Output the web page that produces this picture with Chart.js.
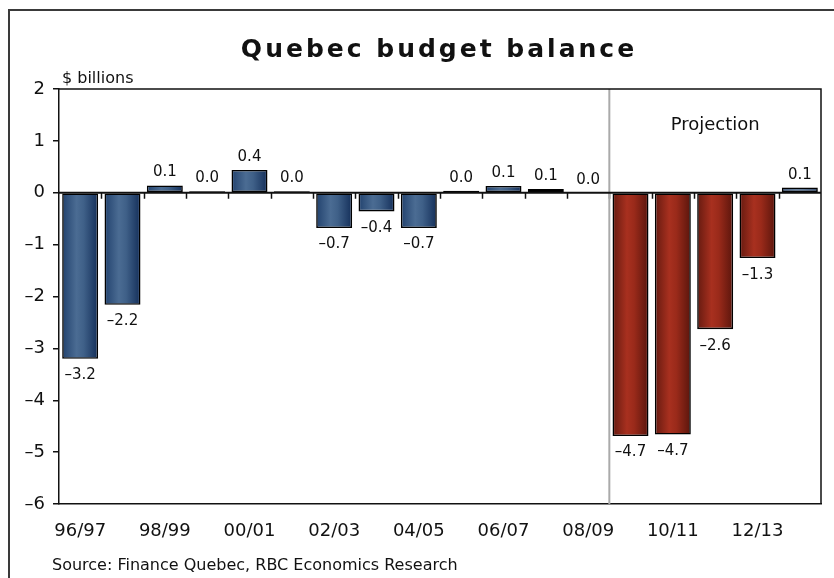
<!DOCTYPE html>
<html>
<head>
<meta charset="utf-8">
<script src="https://cdn.jsdelivr.net/npm/chart.js@4.4.1/dist/chart.umd.min.js"></script>
<style>
  html, body { margin: 0; padding: 0; background: #fff; }
  #wrap { position: relative; width: 834px; height: 578px; }
</style>
</head>
<body>
<div id="wrap"><canvas id="budget-chart" width="834" height="578"></canvas></div>
<script>
// Datos del gráfico
const seasons = ["96/97", "97/98", "98/99", "99/00", "00/01", "01/02", "02/03", "03/04", "04/05",
  "05/06", "06/07", "07/08", "08/09", "09/10", "10/11", "11/12", "12/13", "13/14"];
const balance = [-3.2, -2.16, 0.14, 0.03, 0.44, 0.03, -0.68, -0.36, -0.68,
  0.04, 0.13, 0.07, 0, -4.69, -4.66, -2.63, -1.26, 0.1];
const projected = [false, false, false, false, false, false, false, false, false,
  false, false, false, false, true, true, true, true, false];
const firstProjection = 13;

const FONT = "'DejaVu Sans', Verdana, sans-serif";
const BAR_PCT = 0.85;

const fmt = (v) => {
  const s = v.toFixed(1);
  return s.startsWith("-") ? "\u2013" + s.slice(1) : s;
};

// Degradado horizontal de cada barra
const barFill = (c) => {
  const chart = c.chart;
  const xs = chart.scales.x;
  const i = c.dataIndex;
  const red = projected[i];
  if (!xs || !chart.chartArea) return red ? "#8f2a1a" : "#34557f";
  const cx = xs.getPixelForValue(i);
  const w = (xs.width / seasons.length) * BAR_PCT;
  const g = chart.ctx.createLinearGradient(cx - w / 2, 0, cx + w / 2, 0);
  if (red) {
    g.addColorStop(0, "#651a10");
    g.addColorStop(0.4, "#a8301f");
    g.addColorStop(0.6, "#9a2a1a");
    g.addColorStop(1, "#5a150c");
  } else {
    g.addColorStop(0, "#22426e");
    g.addColorStop(0.4, "#4b6c93");
    g.addColorStop(0.6, "#3f6088");
    g.addColorStop(1, "#142f5a");
  }
  return g;
};

const decor = {
  id: "decor",
  beforeDatasetsDraw(chart) {
    const { ctx, chartArea: a, scales: { x, y } } = chart;
    const y0 = y.getPixelForValue(0);
    const step = x.width / seasons.length;
    ctx.save();
    // marcas en la línea cero
    ctx.strokeStyle = "#111";
    ctx.lineWidth = 1.5;
    for (let k = 1; k < seasons.length; k++) {
      const px = Math.round(a.left + step * k) + 0.5;
      ctx.beginPath();
      ctx.moveTo(px, y0);
      ctx.lineTo(px, y0 + 6);
      ctx.stroke();
    }
    // separación de la proyección
    const px = a.left + step * firstProjection;
    ctx.strokeStyle = "#aaaaaa";
    ctx.lineWidth = 2;
    ctx.beginPath();
    ctx.moveTo(px, a.top);
    ctx.lineTo(px, a.bottom);
    ctx.stroke();
    ctx.restore();
  },
  afterDatasetsDraw(chart) {
    const { ctx, chartArea: a, scales: { y } } = chart;
    const y0 = y.getPixelForValue(0);
    ctx.save();
    ctx.strokeStyle = "#111";
    ctx.lineWidth = 2;
    ctx.beginPath();
    ctx.moveTo(a.left, y0);
    ctx.lineTo(a.right, y0);
    ctx.stroke();
    ctx.lineWidth = 1.5;
    ctx.beginPath();
    ctx.moveTo(a.left, a.top);
    ctx.lineTo(a.right, a.top);
    ctx.lineTo(a.right, a.bottom);
    ctx.stroke();

    // etiquetas de valores
    ctx.fillStyle = "#111";
    ctx.font = "15px " + FONT;
    ctx.textAlign = "center";
    chart.getDatasetMeta(0).data.forEach((bar, i) => {
      const v = balance[i];
      if (v < 0) {
        ctx.textBaseline = "top";
        ctx.fillText(fmt(v), bar.x, bar.y + 9);
      } else {
        ctx.textBaseline = "alphabetic";
        ctx.fillText(fmt(v), bar.x, bar.y - 9);
      }
    });
    ctx.restore();
  },
  afterDraw(chart) {
    const { ctx, chartArea: a } = chart;
    ctx.save();
    ctx.fillStyle = "#111";
    ctx.textBaseline = "alphabetic";

    ctx.textAlign = "center";
    ctx.font = "bold 25px " + FONT;
    ctx.letterSpacing = "3px";
    ctx.fillText("Quebec budget balance", (a.left + a.right) / 2 - 1, 57);
    ctx.letterSpacing = "0px";

    ctx.font = "18px " + FONT;
    const projX = a.left + (a.width / seasons.length) * firstProjection;
    ctx.fillText("Projection", (projX + a.right) / 2, a.top + 41);

    ctx.textAlign = "left";
    ctx.font = "16px " + FONT;
    ctx.fillText("$ billions", a.left + 3, a.top - 6);

    ctx.font = "16px " + FONT;
    ctx.fillText("Source: Finance Quebec, RBC Economics Research", 52, 570);

    // marco exterior
    ctx.strokeStyle = "#3a3a3a";
    ctx.lineWidth = 2;
    ctx.beginPath();
    ctx.moveTo(9, 578);
    ctx.lineTo(9, 10);
    ctx.lineTo(834, 10);
    ctx.stroke();
    ctx.restore();
  }
};

new Chart(document.getElementById("budget-chart"), {
  type: "bar",
  data: {
    labels: seasons,
    datasets: [{
      data: balance,
      backgroundColor: barFill,
      borderColor: "#000",
      borderWidth: 1.6,
      borderSkipped: false,
      barPercentage: BAR_PCT,
      categoryPercentage: 1,
    }],
  },
  options: {
    responsive: false,
    animation: false,
    layout: { padding: { left: 0, right: 13, top: 89, bottom: 0 } },
    plugins: { legend: { display: false }, title: { display: false }, tooltip: { enabled: false } },
    scales: {
      x: {
        grid: { display: false },
        border: { display: true, color: "#111", width: 1.5 },
        ticks: {
          autoSkip: false,
          maxRotation: 0,
          padding: 9,
          color: "#111",
          font: { family: FONT, size: 18 },
          callback: (val, i) => (i % 2 === 0 ? seasons[i] : ""),
        },
        afterFit: (s) => { s.height = 74; },
      },
      y: {
        min: -6,
        max: 2,
        grid: { display: true, drawOnChartArea: false, drawTicks: true, tickLength: 6, color: "#111", lineWidth: 1.5 },
        border: { display: true, color: "#111", width: 1.5 },
        ticks: {
          stepSize: 1,
          padding: 8,
          color: "#111",
          font: { family: FONT, size: 18 },
          callback: (v) => (v < 0 ? "\u2013" + Math.abs(v) : String(v)),
        },
        afterFit: (s) => { s.width = 59; },
      },
    },
  },
  plugins: [decor],
});
</script>
</body>
</html>
